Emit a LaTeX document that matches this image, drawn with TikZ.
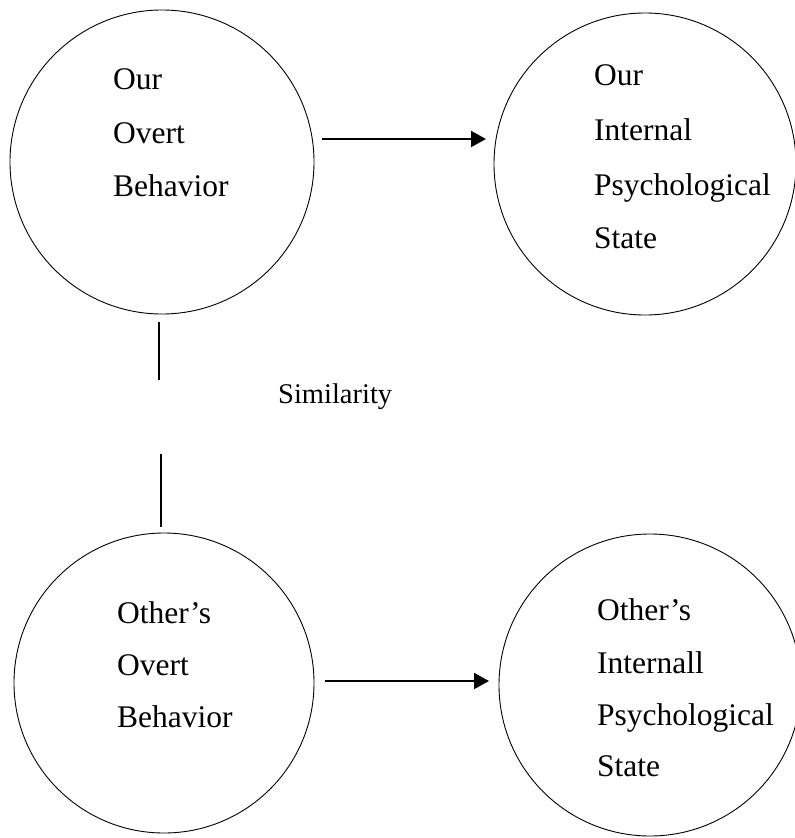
\documentclass[tikz,border=0pt]{standalone}
\usepackage{fontspec}
\setmainfont{Liberation Serif}
\usetikzlibrary{arrows.meta}
\begin{document}
\begin{tikzpicture}[x=1pt,y=-1pt,
  bubble/.style={draw=black,line width=0.9pt,circle,minimum size=#1,inner sep=0pt},
  lbl/.style={anchor=base west,inner sep=0pt,font=\fontsize{31.5}{31.5}\selectfont},
  simlbl/.style={anchor=base west,inner sep=0pt,font=\fontsize{28.5}{28.5}\selectfont},
  flow/.style={line width=2pt,-{Triangle[length=15pt,width=16pt]}},
  link/.style={line width=1.2pt}]
\useasboundingbox (0,0) rectangle (795,838);
% circles
\node[bubble=304pt] (ourB) at (162,162) {};
\node[bubble=302pt] (ourS) at (645,164) {};
\node[bubble=300pt] (othB) at (164,683) {};
\node[bubble=302pt] (othS) at (650,685) {};
% texts
\node[lbl] (t1) at (113,89) {Our};
\node[lbl] (t2) at (113,143) {Overt};
\node[lbl] (t3) at (113,196) {Behavior};
\node[lbl] (u1) at (594,85) {Our};
\node[lbl] (u2) at (594,140) {Internal};
\node[lbl] (u3) at (594,195) {Psychological};
\node[lbl] (u4) at (594,248) {State};
\node[lbl] (v1) at (117,623) {Other’s};
\node[lbl] (v2) at (117,675) {Overt};
\node[lbl] (v3) at (117,727) {Behavior};
\node[lbl] (w1) at (597,620) {Other’s};
\node[lbl] (w2) at (597,673) {Internall};
\node[lbl] (w3) at (597,725) {Psychological};
\node[lbl] (w4) at (597,776) {State};
\node[simlbl] (sim) at (278,403) {Similarity};
% connector end points
\coordinate (a1) at (322,139);
\coordinate (a2) at (486,139);
\coordinate (b1) at (325,681);
\coordinate (b2) at (489,681);
\coordinate (s1) at (159,322);
\coordinate (s2) at (159,380);
\coordinate (s3) at (161,454);
\coordinate (s4) at (161,527);
% connectors
\draw[flow] (a1) -- (a2);
\draw[flow] (b1) -- (b2);
\draw[link] (s1) -- (s2);
\draw[link] (s3) -- (s4);
\end{tikzpicture}
\end{document}
